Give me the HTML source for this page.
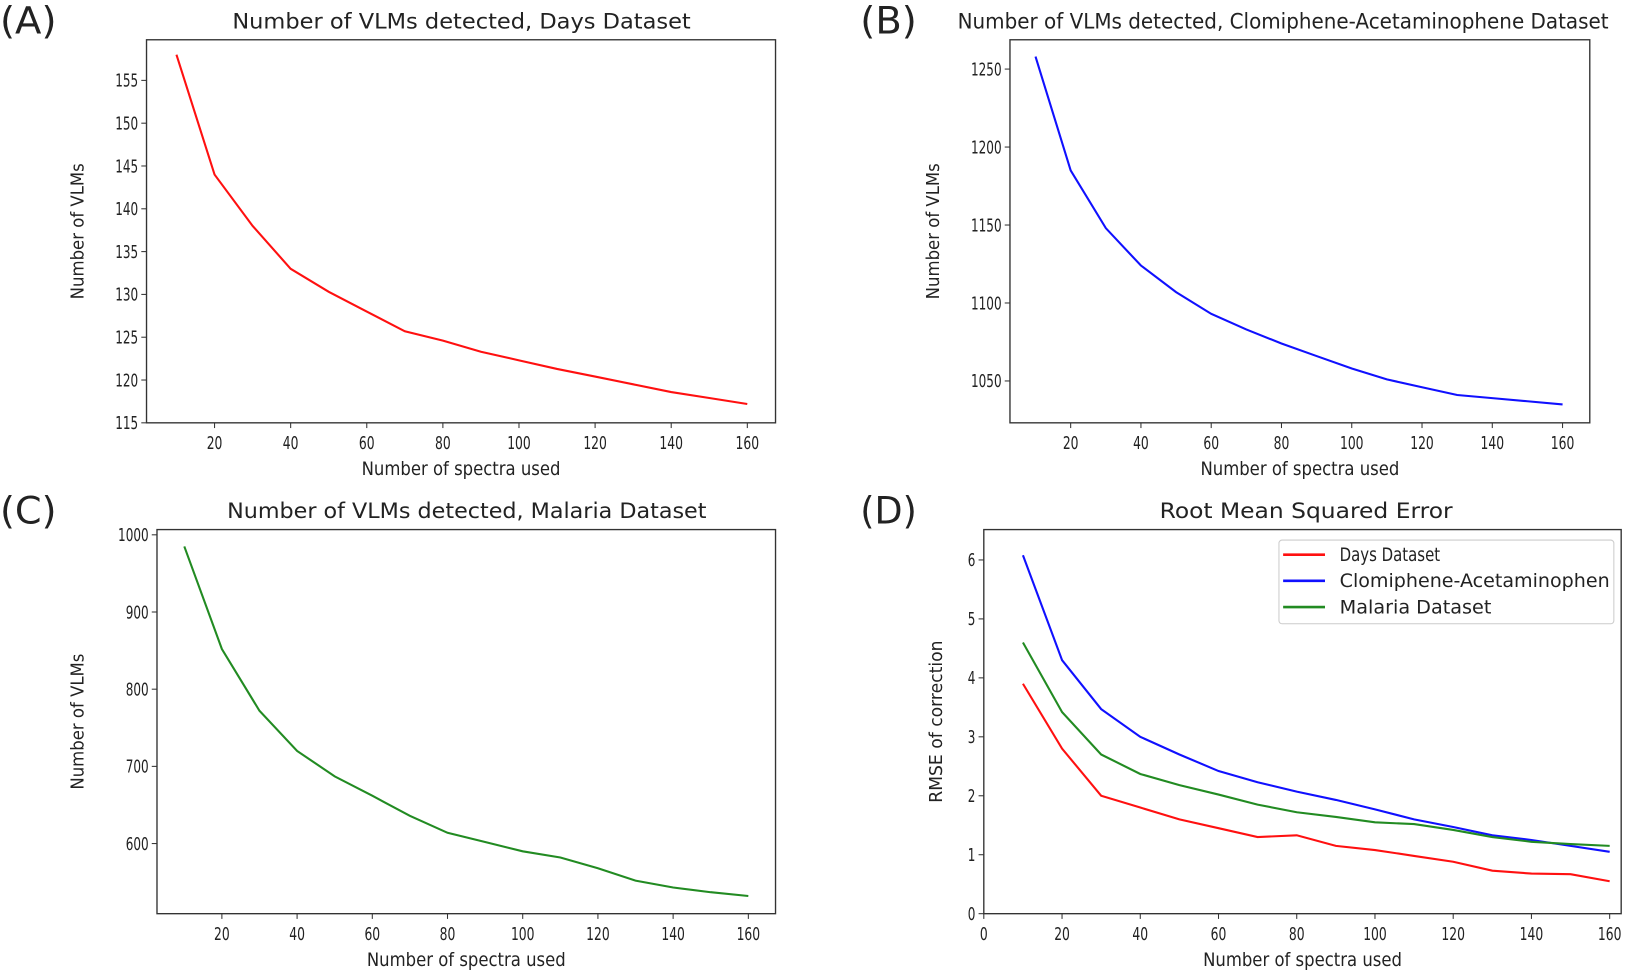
<!DOCTYPE html>
<html><head><meta charset="utf-8"><style>
html,body{margin:0;padding:0;background:#fff}
svg text{font-family:"DejaVu Sans","Liberation Sans",sans-serif;fill:#222}
</style></head><body>
<svg width="1641" height="971" xmlns="http://www.w3.org/2000/svg"><g id="s" transform="scale(1.0466)"></g></svg>
<script>
const s=document.getElementById('s');let h='';
const X=[10,20,30,40,50,60,70,80,90,100,110,120,130,140,150,160];
function panel(o){
 const {L,R,T,B,x0,xs,y0,yv0,ys}=o;
 const fx=v=>x0+(v-(o.xref||0))*xs, fy=v=>y0-(v-yv0)*ys;
 h+=`<rect x="${L}" y="${T}" width="${R-L}" height="${B-T}" fill="none" stroke="#333" stroke-width="1.3"/>`;
 o.xt.forEach(v=>{const x=fx(v);h+=`<line x1="${x}" y1="${B}" x2="${x}" y2="${B+5}" stroke="#333"/><text x="${x}" y="${B+25}" font-size="17" text-anchor="middle" textLength="${String(v).length*7.5}" lengthAdjust="spacingAndGlyphs">${v}</text>`;});
 o.yt.forEach(v=>{const y=fy(v);h+=`<line x1="${L-5}" y1="${y}" x2="${L}" y2="${y}" stroke="#333"/><text x="${L-8}" y="${y+6}" font-size="17" text-anchor="end" textLength="${String(v).length*7.3}" lengthAdjust="spacingAndGlyphs">${v}</text>`;});
 o.series.forEach(([c,d])=>{h+=`<polyline fill="none" stroke="${c}" stroke-width="2" points="${d.map((v,i)=>fx(X[i]).toFixed(1)+','+fy(v).toFixed(1)).join(' ')}"/>`;});
 h+=`<text x="${(o.tl+o.tr)/2}" y="${T-11}" font-size="20" text-anchor="middle" textLength="${o.tr-o.tl}" lengthAdjust="spacingAndGlyphs">${o.title}</text>`;
 h+=`<text x="${(L+R)/2}" y="${B+50}" font-size="18" text-anchor="middle" textLength="190" lengthAdjust="spacingAndGlyphs">Number of spectra used</text>`;
 h+=`<text transform="translate(${o.ylx},${(T+B)/2}) rotate(-90)" font-size="17" text-anchor="middle" textLength="${o.ylw}" lengthAdjust="spacingAndGlyphs">${o.ylab}</text>`;
 h+=`<text x="${o.lx}" y="${T-6}" font-size="36" textLength="54" lengthAdjust="spacingAndGlyphs">${o.lab}</text>`;
}
panel({L:140,R:741,T:38,B:404,x0:205,xref:20,xs:3.636,y0:404,yv0:115,ys:8.18,
 xt:[20,40,60,80,100,120,140,160],yt:[115,120,125,130,135,140,145,150,155],
 series:[['#ff1010',[158,144,138,133,130.3,128,125.7,124.6,123.3,122.3,121.3,120.4,119.5,118.6,117.9,117.2]]],
 title:'Number of VLMs detected, Days Dataset',tl:222,tr:660,ylab:'Number of VLMs',ylx:80,ylw:130,lab:'(A)',lx:0});
panel({L:965,R:1519,T:38,B:404,x0:1023,xref:20,xs:3.357,y0:364,yv0:1050,ys:1.49,
 xt:[20,40,60,80,100,120,140,160],yt:[1050,1100,1150,1200,1250],
 series:[['#1010ff',[1258,1185,1148,1124,1107,1093,1083,1074,1066,1058,1051,1046,1041,1039,1037,1035]]],
 title:'Number of VLMs detected, Clomiphene-Acetaminophene Dataset',tl:915,tr:1537,ylab:'Number of VLMs',ylx:897,ylw:130,lab:'(B)',lx:822});
panel({L:150,R:741,T:506,B:873,x0:212,xref:20,xs:3.593,y0:806,yv0:600,ys:0.7375,
 xt:[20,40,60,80,100,120,140,160],yt:[600,700,800,900,1000],
 series:[['#228b22',[985,852,772,720,687,662,636,614,602,590,582,568,552,543,537,532]]],
 title:'Number of VLMs detected, Malaria Dataset',tl:217,tr:675,ylab:'Number of VLMs',ylx:80,ylw:130,lab:'(C)',lx:0});
panel({L:940,R:1549,T:506,B:873,x0:940,xref:0,xs:3.7375,y0:873,yv0:0,ys:56.33,
 xt:[0,20,40,60,80,100,120,140,160],yt:[0,1,2,3,4,5,6],
 series:[['#ff1010',[3.9,2.8,2.0,1.8,1.6,1.45,1.3,1.33,1.15,1.08,0.98,0.88,0.73,0.68,0.67,0.55]],
 ['#1010ff',[6.08,4.3,3.47,3.0,2.7,2.42,2.23,2.07,1.93,1.77,1.6,1.47,1.33,1.25,1.15,1.05]],
 ['#228b22',[4.6,3.42,2.7,2.37,2.18,2.02,1.85,1.72,1.64,1.55,1.52,1.42,1.3,1.22,1.18,1.15]]],
 title:'Root Mean Squared Error',tl:1108,tr:1388,ylab:'RMSE of correction',ylx:900,ylw:155,lab:'(D)',lx:822});
h+=`<rect x="1222" y="516" width="320" height="80" rx="3" fill="#fff" stroke="#ccc"/>`;
[['#ff1010','Days Dataset',530,96],['#1010ff','Clomiphene-Acetaminophen',555,258],['#228b22','Malaria Dataset',580,145]].forEach(([c,t,y,w])=>{
 h+=`<line x1="1226" y1="${y}" x2="1266" y2="${y}" stroke="${c}" stroke-width="2.5"/><text x="1280" y="${y+6}" font-size="18" textLength="${w}" lengthAdjust="spacingAndGlyphs">${t}</text>`;});
s.innerHTML=h;
</script>
</body></html>
